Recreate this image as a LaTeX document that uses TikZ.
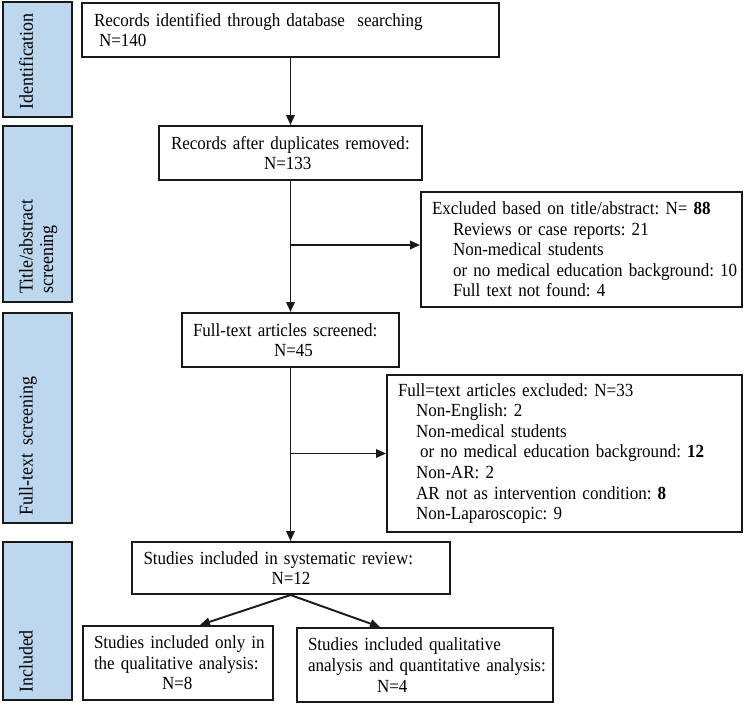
\documentclass[tikz,border=0pt]{standalone}
\usepackage{fontspec}
\setmainfont{Liberation Serif}[FakeStretch=0.92]
\usetikzlibrary{arrows.meta,calc}
\definecolor{bandblue}{RGB}{189,215,238}
\definecolor{edge}{RGB}{25,25,25}
\frenchspacing
\begin{document}
\begin{tikzpicture}[x=1pt,y=-1pt,
  box/.style={draw=edge, line width=2pt, inner xsep=12pt, inner ysep=0pt,
    font=\fontsize{18.5pt}{20.6pt}\selectfont, align=left},
  band/.style={draw=edge, fill=bandblue, line width=2pt, inner sep=0pt, minimum width=69pt},
  bandlabel/.style={rotate=90, anchor=north west, inner sep=0pt, align=left,
    font=\fontsize{19.5pt}{20.5pt}\selectfont},
  arr/.style={draw=edge, line width=1.9pt, -{Triangle[length=10pt,width=8.5pt]}}]
\useasboundingbox (0,0) rectangle (745,705);

% side bands
\node[band, minimum height=115pt] (bId) at (37.5,59.5) {};
\node[band, minimum height=176pt] (bTi) at (37.5,214) {};
\node[band, minimum height=210pt] (bFu) at (37.5,418) {};
\node[band, minimum height=158pt] (bIn) at (37.5,621) {};
\node[bandlabel] (lId) at (19,110) {Identification};
\node[bandlabel] (lTi) at (19,294) {Title/abstract\\screening};
\node[bandlabel] (lFu) at (19,516) {Full-text\ \ screening};
\node[bandlabel] (lIn) at (19,693) {Included};

% main boxes
\node[box, text width=393pt, minimum height=54pt] (box1) at (290.5,30)
  {Records identified through database\ \ searching\\\hspace*{5pt}N=140};
\node[box, text width=239pt, minimum height=54pt] (box2) at (290.5,153)
  {Records after duplicates removed:\\\hspace*{93pt}N=133};
\node[box, inner xsep=11pt, text width=195pt, minimum height=54pt] (box3) at (290.5,340)
  {Full-text articles screened:\\\hspace*{81pt}N=45};
\node[box, text width=294pt, minimum height=52pt] (box4) at (290.5,568)
  {Studies included in systematic review:\\\hspace*{128pt}N=12};
\node[box, inner xsep=11pt, text width=168pt, minimum height=74pt] (box5) at (178,663)
  {\mbox{Studies included only in}\\\mbox{the qualitative analysis:}\\\hspace*{68pt}N=8};
\node[box, inner xsep=11pt, text width=234pt, minimum height=74pt] (box6) at (425,665)
  {Studies included qualitative\\\mbox{analysis and quantitative analysis:}\\\hspace*{69pt}N=4};

% exclusion boxes
\node[box, inner xsep=11pt, text width=299pt, minimum height=115pt] (ex1) at (581.5,249.5)
  {Excluded based on title/abstract: N= \textbf{88}\\
   \hspace*{21pt}Reviews or case reports: 21\\
   \hspace*{21pt}Non-medical students\\
   \hspace*{21pt}\mbox{or no medical education background: 10}\\
   \hspace*{21pt}Full text not found: 4};
\node[box, inner xsep=11pt, text width=333pt, minimum height=157pt] (ex2) at (564.5,453.5)
  {Full=text articles excluded: N=33\\
   \hspace*{18pt}Non-English: 2\\
   \hspace*{18pt}Non-medical students\\
   \hspace*{22pt}\mbox{or no medical education background: \textbf{12}}\\
   \hspace*{18pt}Non-AR: 2\\
   \hspace*{18pt}AR not as intervention condition: \textbf{8}\\
   \hspace*{18pt}Non-Laparoscopic: 9};

% connectors
\draw[arr] (box1) -- (box2);
\draw[arr] (box2) -- (box3);
\draw[arr] (box3) -- (box4);
\coordinate (j1) at (290.5,245);
\draw[arr] (j1) -- (j1 -| ex1.west);
\draw[arr] (box3.south |- ex2.west) -- (ex2.west);
\draw[arr] (box4.south) -- ([xshift=22pt]box5.north);
\draw[arr] (box4.south) -- ([xshift=-45pt]box6.north);
\end{tikzpicture}
\end{document}
